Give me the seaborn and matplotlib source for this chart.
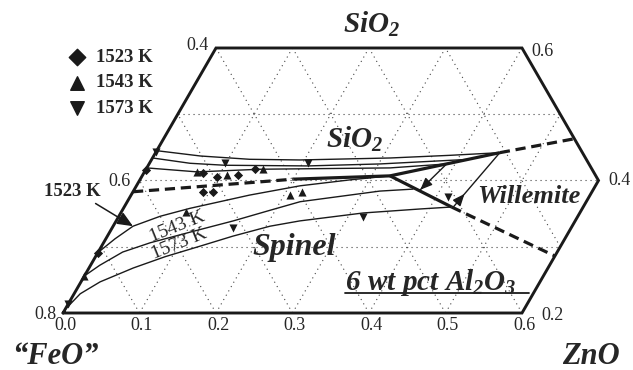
import numpy as np
import pandas as pd
import matplotlib
matplotlib.use("Agg")
import matplotlib.pyplot as plt
import seaborn as sns

# ---------------- data: mass fractions (ZnO, SiO2); FeO = 1 - ZnO - SiO2 ----------------
outline_zno = [0.0, 0.6, 0.6, 0.4, 0.0, 0.0]
outline_sio2 = [0.2, 0.2, 0.4, 0.6, 0.6, 0.2]

bottom_ticks = [0.0, 0.1, 0.2, 0.3, 0.4, 0.5, 0.6]      # ZnO along SiO2 = 0.2
left_ticks = [0.8, 0.6, 0.4]                            # FeO along ZnO = 0
right_ticks = [0.2, 0.4, 0.6]                           # SiO2 on right boundary
right_tick_zno = [0.6, 0.6, 0.4]
grid_sio2 = [0.3, 0.4, 0.5]
grid_zno = [0.1, 0.2, 0.3, 0.4, 0.5]
grid_feo = [0.1, 0.2, 0.3, 0.4, 0.5, 0.6, 0.7]

# liquidus isotherms, SiO2 primary field
sio2_top_zno = [0.000, 0.061, 0.128, 0.194, 0.311, 0.387, 0.450]
sio2_top_sio2 = [0.445, 0.437, 0.432, 0.431, 0.434, 0.438, 0.442]
sio2_mid_zno = [0.000, 0.053, 0.100, 0.209, 0.302, 0.416]
sio2_mid_sio2 = [0.434, 0.426, 0.423, 0.422, 0.425, 0.432]
sio2_low_zno = [0.000, 0.069, 0.149, 0.318, 0.389]
sio2_low_sio2 = [0.419, 0.413, 0.417, 0.419, 0.425]

# liquidus isotherms, spinel primary field
sp1523_zno = [0.000, 0.012, 0.026, 0.054, 0.087, 0.155, 0.214, 0.275, 0.324]
sp1523_sio2 = [0.291, 0.312, 0.331, 0.346, 0.358, 0.378, 0.392, 0.401, 0.407]
sp1543_zno = [0.000, 0.012, 0.032, 0.061, 0.105, 0.153, 0.193, 0.226, 0.286, 0.322, 0.364]
sp1543_sio2 = [0.256, 0.272, 0.292, 0.306, 0.322, 0.339, 0.355, 0.368, 0.378, 0.384, 0.387]
sp1573_zno = [0.000, 0.008, 0.025, 0.058, 0.091, 0.129, 0.164, 0.205, 0.240, 0.317, 0.388, 0.428]
sp1573_sio2 = [0.205, 0.229, 0.247, 0.268, 0.285, 0.301, 0.316, 0.331, 0.339, 0.351, 0.357, 0.360]

# willemite field isotherms
wil1_zno = [0.389, 0.374]
wil1_sio2 = [0.425, 0.386]
wil2_zno = [0.450, 0.430]
wil2_sio2 = [0.442, 0.359]

# primary-phase field boundaries
b_sio2_sp_dash_zno = [0.000, 0.159, 0.200]
b_sio2_sp_dash_sio2 = [0.383, 0.398, 0.402]
b_sio2_sp_zno = [0.200, 0.324]
b_sio2_sp_sio2 = [0.402, 0.407]
b_sio2_wil_zno = [0.324, 0.450]
b_sio2_wil_sio2 = [0.407, 0.442]
b_sio2_wil_dash_zno = [0.450, 0.537]
b_sio2_wil_dash_sio2 = [0.442, 0.463]
b_sp_wil_zno = [0.324, 0.428]
b_sp_wil_sio2 = [0.407, 0.360]
b_sp_wil_dash_zno = [0.428, 0.600]
b_sp_wil_dash_sio2 = [0.360, 0.286]

# experimental points
pts_1523_zno = [0.077, 0.099, 0.125, 0.142, 0.092, 0.104, 0.000, 0.000]
pts_1523_sio2 = [0.411, 0.405, 0.408, 0.417, 0.383, 0.383, 0.416, 0.291]
pts_1543_zno = [0.069, 0.110, 0.153, 0.085, 0.208, 0.221, 0.000]
pts_1543_sio2 = [0.413, 0.408, 0.417, 0.352, 0.378, 0.383, 0.256]
pts_1573_zno = [0.099, 0.207, 0.158, 0.320, 0.416, 0.000, 0.000]
pts_1573_sio2 = [0.426, 0.426, 0.328, 0.345, 0.375, 0.443, 0.214]
temps = ["1523 K", "1543 K", "1573 K"]

# ---------------- style ----------------
sns.set_theme(style="white")
plt.rcParams["font.family"] = ["Liberation Serif", "DejaVu Serif"]
plt.rcParams["mathtext.fontset"] = "custom"
for k in ("rm", "it", "bf"):
    plt.rcParams["mathtext." + k] = "Liberation Serif:italic:bold"

SQ3 = np.sqrt(3) / 2


def tern(zno, sio2):
    zno = np.asarray(zno, float)
    sio2 = np.asarray(sio2, float)
    return zno + sio2 / 2, sio2 * SQ3


S, X0, Y0 = 765.0, 63.0, 313.0


def P(px, py):  # layout helper: figure pixel -> data coords
    return ((px - X0) / S + 0.1, (Y0 - py) / S + 0.2 * SQ3)


fig = plt.figure(figsize=(6.33, 3.70), dpi=100)
ax = fig.add_axes([0, 0, 1, 1])
ax.set_xlim(P(0, 0)[0], P(633, 0)[0])
ax.set_ylim(P(0, 370)[1], P(0, 0)[1])
ax.axis("off")

# dotted grid
gkw = dict(color="#444444", lw=0.8, ls=(0, (1, 3.5)), zorder=1)
for s in grid_sio2:
    ax.plot(*tern([0, min(0.6, 1 - s)], [s, s]), **gkw)
for z in grid_zno:
    ax.plot(*tern([z, z], [0.2, min(0.6, 1 - z)]), **gkw)
for f in grid_feo:
    t = 1 - f
    s0, s1 = max(0.2, t - 0.6), min(0.6, t)
    ax.plot(*tern([t - s0, t - s1], [s0, s1]), **gkw)

# outline
ax.plot(*tern(outline_zno, outline_sio2), color="k", lw=2.1, solid_joinstyle="miter", zorder=5)

# isotherms
thin = dict(color="k", lw=1.0, zorder=3)
for zz, ss in [(sio2_top_zno, sio2_top_sio2), (sio2_mid_zno, sio2_mid_sio2),
               (sio2_low_zno, sio2_low_sio2), (sp1523_zno, sp1523_sio2),
               (sp1543_zno, sp1543_sio2), (sp1573_zno, sp1573_sio2),
               (wil1_zno, wil1_sio2), (wil2_zno, wil2_sio2)]:
    x, y = tern(zz, ss)
    sns.lineplot(x=x, y=y, sort=False, estimator=None, ax=ax, **thin)

# boundaries
thick = dict(color="k", lw=2.3, zorder=4, solid_capstyle="butt")
dash = dict(color="k", lw=2.3, zorder=4, ls=(0, (3.2, 1.8)))
ax.plot(*tern(b_sio2_sp_dash_zno, b_sio2_sp_dash_sio2), **dash)
ax.plot(*tern(b_sio2_sp_zno, b_sio2_sp_sio2), **thick)
ax.plot(*tern(b_sio2_wil_zno, b_sio2_wil_sio2), **thick)
ax.plot(*tern(b_sio2_wil_dash_zno, b_sio2_wil_dash_sio2), **dash)
ax.plot(*tern(b_sp_wil_zno, b_sp_wil_sio2), **thick)
ax.plot(*tern(b_sp_wil_dash_zno, b_sp_wil_dash_sio2), **dash)

# arrow heads on willemite isotherms
x1, y1 = tern(wil1_zno, wil1_sio2)
ax.annotate("", xy=(x1[1], y1[1]), xytext=(x1[1] + 0.25 * (x1[0] - x1[1]), y1[1] + 0.25 * (y1[0] - y1[1])),
            arrowprops=dict(arrowstyle="-|>,head_length=0.6,head_width=0.25", color="k", lw=1.0,
                            shrinkA=0, shrinkB=0), zorder=6)
x2, y2 = tern(wil2_zno, wil2_sio2)
ta, tb = 0.75, 0.9
ax.annotate("", xy=(x2[0] + ta * (x2[1] - x2[0]), y2[0] + ta * (y2[1] - y2[0])),
            xytext=(x2[0] + tb * (x2[1] - x2[0]), y2[0] + tb * (y2[1] - y2[0])),
            arrowprops=dict(arrowstyle="-|>,head_length=0.6,head_width=0.25", color="k", lw=1.0,
                            shrinkA=0, shrinkB=0), zorder=6)

# experimental points
mk = {"1523 K": "D", "1543 K": "^", "1573 K": "v"}
msz = {"1523 K": 22, "1543 K": 34, "1573 K": 34}
frames = []
for T, zz, ss in zip(temps, [pts_1523_zno, pts_1543_zno, pts_1573_zno],
                     [pts_1523_sio2, pts_1543_sio2, pts_1573_sio2]):
    x, y = tern(zz, ss)
    frames.append(pd.DataFrame({"x": x, "y": y, "T": T}))
pts = pd.concat(frames, ignore_index=True)
for T in temps:
    sns.scatterplot(data=pts[pts["T"] == T], x="x", y="y", marker=mk[T], s=msz[T],
                    color="k", edgecolor="k", linewidth=0, ax=ax, legend=False, zorder=7)

# legend (top-left)
for i, T in enumerate(temps):
    py = 57 + 25.5 * i
    ax.scatter(*P(77, py), marker=mk[T], s=70 if T == "1523 K" else 95, color="k", zorder=7)
    ax.text(*P(96, py), T, fontsize=13.5, fontweight="bold", ha="left", va="center")

# tick labels
px2pt = 0.72
tk = dict(fontsize=13, ha="center", va="center", textcoords="offset points")
for v in bottom_ticks:
    ax.annotate(f"{v:.1f}", xy=tern(v, 0.2), xytext=(2 * px2pt, -13 * px2pt), **tk)
for v, (dx, dy) in zip(left_ticks, [(-18, -1), (-20, -1), (-19, 2)]):
    ax.annotate(f"{v:.1f}", xy=tern(0.0, 1 - v), xytext=(dx * px2pt, dy * px2pt), **tk)
for v, z, (dx, dy) in zip(right_ticks, right_tick_zno, [(30, -2), (21, 0), (20, -4)]):
    ax.annotate(f"{v:.1f}", xy=tern(z, v), xytext=(dx * px2pt, dy * px2pt), **tk)

# labels
ax.text(*P(343, 33), r"$SiO_2$", fontsize=21, ha="left", va="baseline")
ax.text(*P(326, 148), r"$SiO_2$", fontsize=21, ha="left", va="baseline")
bi = dict(fontweight="bold", fontstyle="italic", va="baseline")
ax.text(*P(252, 255), "Spinel", fontsize=23, ha="left", **bi)
ax.text(*P(477, 203), "Willemite", fontsize=19, ha="left", **bi)
ax.text(*P(12, 364), "\u201cFeO\u201d", fontsize=22, ha="left", **bi)
ax.text(*P(620, 364), "ZnO", fontsize=22, ha="right", **bi)
ax.text(*P(345, 290), r"$6\ wt\ pct\ Al_2O_3$", fontsize=21, ha="left", va="baseline")
ax.plot(*zip(P(345, 293), P(529, 293)), color="k", lw=1.3)

# isotherm labels
ax.annotate("1523 K", xy=tern(sp1523_zno[2], sp1523_sio2[2]), xytext=P(72, 191),
            fontsize=13.5, fontweight="bold", ha="center", va="center",
            arrowprops=dict(arrowstyle="-|>,head_length=0.7,head_width=0.3", color="k", lw=1.1,
                            shrinkA=1, shrinkB=0, relpos=(0.8, 0.0)))
ax.text(*P(177, 227), "1543 K", fontsize=14, rotation=22, ha="center", va="center",
        rotation_mode="anchor")
ax.text(*P(179, 244), "1573 K", fontsize=14, rotation=22, ha="center", va="center",
        rotation_mode="anchor")

fig.savefig("out.png", dpi=100)
